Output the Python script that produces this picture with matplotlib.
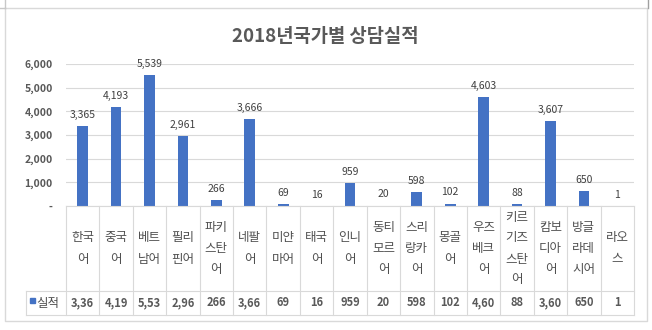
import matplotlib.pyplot as plt
import numpy as np

plt.rcParams['font.family'] = ['Noto Sans CJK KR', 'DejaVu Sans']

# data
languages = ['한국어', '중국어', '베트남어', '필리핀어', '파키스탄어', '네팔어', '미얀마어',
             '태국어', '인니어', '동티모르어', '스리랑카어', '몽골어', '우즈베크어',
             '키르기즈스탄어', '캄보디아어', '방글라데시어', '라오스']
counts = [3365, 4193, 5539, 2961, 266, 3666, 69, 16, 959, 20, 598, 102, 4603, 88, 3607, 650, 1]
yticks = [0, 1000, 2000, 3000, 4000, 5000, 6000]
series_name = '실적'
title = '2018년국가별 상담실적'

W, H = 652, 330
bar_color = '#4472C4'
grid_color = '#D9D9D9'
text_color = '#595959'

fig = plt.figure(figsize=(W / 100, H / 100), dpi=100)
fig.patch.set_facecolor('white')

# plot area in pixels
left, right, top, bottom = 66, 634, 64, 206
ax = fig.add_axes([left / W, 1 - bottom / H, (right - left) / W, (bottom - top) / H])
n = len(languages)
x = np.arange(n)
ax.bar(x, counts, width=0.32, color=bar_color, zorder=3)
ax.set_xlim(-0.5, n - 0.5)
ax.set_ylim(0, 6000)
ax.set_yticks(yticks)
ax.set_yticklabels(['-' if v == 0 else f'{v:,}' for v in yticks],
                   fontsize=7.5, color=text_color, fontweight='bold')
ax.tick_params(axis='y', length=0, pad=9.5)
ax.set_xticks([])
ax.grid(axis='y', color=grid_color, lw=0.8, zorder=0)
for s in ax.spines.values():
    s.set_visible(False)
ax.patch.set_alpha(0)

for xi, v in zip(x, counts):
    ax.annotate(f'{v:,}', (xi, v), xytext=(0, 8), textcoords='offset points',
                ha='center', va='center', fontsize=7.5, color='#404040')

# data table below the axes (y in pixel units)
tab_bottom, row_split = 315, 291
tax = fig.add_axes([left / W, 1 - tab_bottom / H, (right - left) / W, (tab_bottom - bottom) / H])
tax.set_xlim(-0.5, n - 0.5)
tax.set_ylim(tab_bottom, bottom)
tax.axis('off')
col_px = (right - left) / n
legend_left = -0.5 - (left - 26) / col_px

lk = dict(color=grid_color, lw=0.8, clip_on=False)
tax.plot([-0.5, n - 0.5], [bottom, bottom], **lk)
tax.plot([legend_left, n - 0.5], [row_split, row_split], **lk)
tax.plot([legend_left, n - 0.5], [tab_bottom, tab_bottom], **lk)
tax.plot([legend_left, legend_left], [row_split, tab_bottom], **lk)
for i in range(n + 1):
    tax.plot([i - 0.5, i - 0.5], [bottom, tab_bottom], **lk)

head_mid = (bottom + row_split) / 2
val_mid = (row_split + tab_bottom) / 2
for i, name in enumerate(languages):
    lines = [name[k:k + 2] for k in range(0, len(name), 2)]
    for j, ln in enumerate(lines):
        yy = head_mid + (j - (len(lines) - 1) / 2) * 21
        tax.text(i, yy, ln, ha='center', va='center', fontsize=9, color='#505050',
                 clip_on=False)
    tax.text(i, val_mid, f'{counts[i]:,}'[:4], ha='center', va='center', fontsize=8,
             color=text_color, fontweight='bold', clip_on=False)

# legend cell
sq = 5 / col_px
tax.add_patch(plt.Rectangle((legend_left + 4 / col_px, val_mid - 5.5), sq, 5,
                            color=bar_color, clip_on=False))
tax.text(legend_left + 10 / col_px, val_mid, series_name, ha='left', va='center',
         fontsize=9, color='#505050', clip_on=False)

# title
fig.text(325 / W, 1 - 37 / H, title, ha='center', va='center', fontsize=13.5,
         fontweight='bold', color=text_color)

# chart border
bx = fig.add_axes([0, 0, 1, 1])
bx.set_xlim(0, W)
bx.set_ylim(H, 0)
bx.axis('off')
bx.patch.set_alpha(0)
bk = dict(color=grid_color, lw=1)
bx.plot([5, 647, 647, 5, 5], [8, 8, 321, 321, 8], **bk)
bx.plot([0, 5], [8, 8], color='#C8C8C8', lw=1)
bx.plot([5, 5], [0, 8], color='#C8C8C8', lw=1)
bx.plot([648, 648], [0, 8], color='#A0A0A0', lw=1)

fig.savefig('out.png', dpi=100, facecolor='white')
